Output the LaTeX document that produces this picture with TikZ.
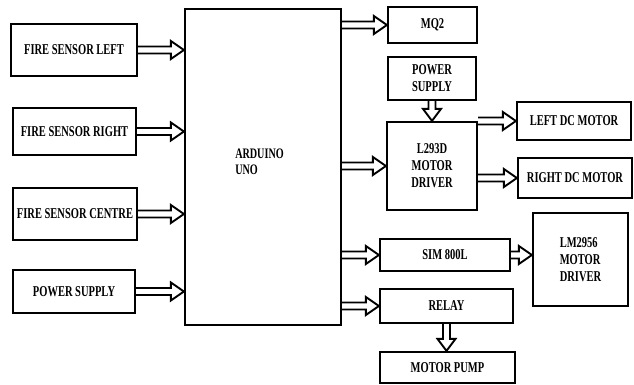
\documentclass[tikz,border=0pt]{standalone}
\usepackage{fontspec}
\setmainfont{Liberation Serif}[FakeStretch=0.7]
\usetikzlibrary{calc}

\tikzset{
  box/.style={draw, line width=2.2pt, inner sep=0pt, align=center,
    font=\fontsize{15}{17}\selectfont\bfseries},
  fatarrow/.style={draw, line width=1.9pt, line join=miter, fill=white}
}
% hollow block arrows, horizontal and downwards
\newcommand{\hfat}[2]{%
  \draw[fatarrow] let \p1=(#1), \p2=(#2) in
    (\x1,\y1+3.5pt) -- (\x2-13pt,\y1+3.5pt) -- (\x2-13pt,\y1+9pt) -- (\x2,\y1)
    -- (\x2-13pt,\y1-9pt) -- (\x2-13pt,\y1-3.5pt) -- (\x1,\y1-3.5pt);}
\newcommand{\vfat}[2]{%
  \draw[fatarrow] let \p1=(#1), \p2=(#2) in
    (\x1-3.5pt,\y1) -- (\x1-3.5pt,\y2+12pt) -- (\x1-9pt,\y2+12pt) -- (\x1,\y2)
    -- (\x1+9pt,\y2+12pt) -- (\x1+3.5pt,\y2+12pt) -- (\x1+3.5pt,\y1);}

\begin{document}
\begin{tikzpicture}[x=1pt, y=-1pt]
  \useasboundingbox (0,0) rectangle (634,385);
  % Controller
  \node[box, minimum width=156, minimum height=316] (uno) at (263,167) {};
  \node[font=\fontsize{14.5}{16}\selectfont\bfseries, align=left] (unolabel) at (259.5,162) {ARDUINO\\UNO};
  % Inputs
  \node[box, minimum width=126, minimum height=52] (fsl) at (74,50) {FIRE SENSOR LEFT};
  \node[box, minimum width=123, minimum height=47] (fsr) at (74.5,131.5) {FIRE SENSOR RIGHT};
  \node[box, minimum width=124, minimum height=52] (fsc) at (75,214) {FIRE SENSOR CENTRE};
  \node[box, minimum width=122, minimum height=43] (psin) at (74,291.5) {POWER SUPPLY};
  % Outputs
  \node[box, minimum width=89, minimum height=36] (mq) at (432.5,25) {MQ2};
  \node[box, minimum width=88, minimum height=43] (psdrv) at (432,78.5) {POWER\\SUPPLY};
  \node[box, minimum width=90, minimum height=88] (drv) at (432,166) {L293D\\MOTOR\\DRIVER};
  \node[box, minimum width=114, minimum height=38] (ldc) at (574,121) {LEFT DC MOTOR};
  \node[box, minimum width=114, minimum height=40] (rdc) at (575,178) {RIGHT DC MOTOR};
  \node[box, minimum width=130, minimum height=32] (sim) at (445,255) {SIM 800L};
  \node[box, minimum width=95, minimum height=93, align=left] (lm) at (580.5,259.5) {LM2956\\MOTOR\\DRIVER};
  \node[box, minimum width=133, minimum height=34] (relay) at (446.5,306) {RELAY};
  \node[box, minimum width=135, minimum height=31] (pump) at (447.5,367.5) {MOTOR PUMP};
  % Arrows into the Arduino
  \hfat{fsl.east}{fsl.east -| uno.west}
  \hfat{fsr.east}{fsr.east -| uno.west}
  \hfat{fsc.east}{fsc.east -| uno.west}
  \hfat{psin.east}{psin.east -| uno.west}
  % Arrows out of the Arduino
  \hfat{uno.east |- mq.west}{mq.west}
  \hfat{uno.east |- drv.west}{drv.west}
  \hfat{uno.east |- sim.west}{sim.west}
  \hfat{uno.east |- relay.west}{relay.west}
  % Driver and relay side
  \vfat{psdrv.south}{drv.north}
  \hfat{drv.east |- ldc.west}{ldc.west}
  \hfat{drv.east |- rdc.west}{rdc.west}
  \hfat{sim.east}{sim.east -| lm.west}
  \vfat{relay.south}{pump.north}
\end{tikzpicture}
\end{document}
